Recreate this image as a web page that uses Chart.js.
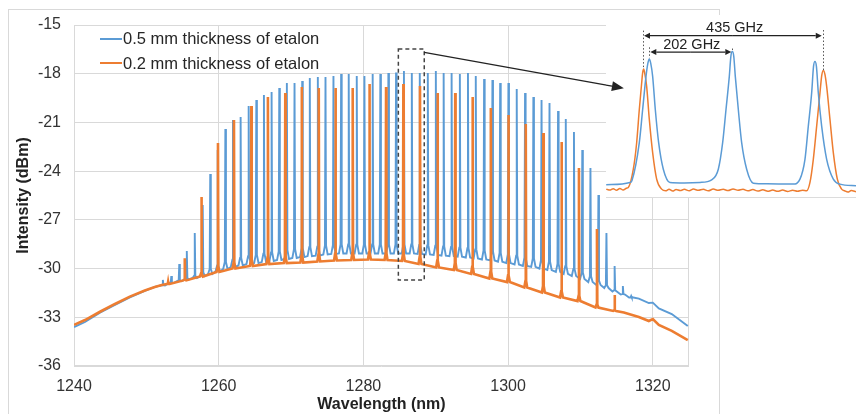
<!DOCTYPE html>
<html>
<head>
<meta charset="utf-8">
<title>Etalon comb spectrum</title>
<script src="https://cdn.jsdelivr.net/npm/chart.js@4.4.1/dist/chart.umd.min.js"></script>
<style>
  body { margin: 0; background: #fff; }
  #wrap { position: relative; width: 856px; height: 414px; overflow: hidden; font-family: "Liberation Sans", Arial, sans-serif; }
  #frame { position: absolute; left: 8px; top: 9px; width: 710px; height: 430px; border: 1px solid #d9d9d9; }
  #main { position: absolute; left: 0; top: 0; }
  #inset { position: absolute; left: 606px; top: 15px; background: #fff; }
  #insetEdge { position: absolute; left: 606px; top: 197px; width: 250px; height: 1px; background: #dcdcdc; }
  .leg { position: absolute; left: 100px; height: 20px; line-height: 20px; font-size: 16.5px; color: #262626; white-space: nowrap; }
  .leg span { display: inline-block; width: 22px; height: 2px; vertical-align: middle; margin-right: 1px; position: relative; top: -1px; }
</style>
</head>
<body>
<div id="wrap">
  <div id="frame"></div>
  <canvas id="main" width="856" height="414"></canvas>
  <canvas id="inset" width="250" height="182"></canvas>
  <div id="insetEdge"></div>
  <div id="legend"></div>
</div>
<script>
// Series names and colours
const seriesLabels = ['0.5 mm thickness of etalon', '0.2 mm thickness of etalon'];
const seriesColors = ['#5b9bd5', '#ed7d31'];

// Axis ticks
const xTicks = [1240, 1260, 1280, 1300, 1320];
const yTicks = [-36, -33, -30, -27, -24, -21, -18, -15];

// 0.5 mm etalon: comb lines (nm), line tops and the floor under each line (dBm)
const bluePeakNm = [1252.28, 1253.45, 1254.55, 1255.59, 1256.69, 1257.79, 1258.83, 1259.86, 1260.92, 1261.97,
  1263.03, 1264.14, 1265.20, 1266.25, 1267.31, 1268.37, 1269.42, 1270.48, 1271.54, 1272.59,
  1273.70, 1274.76, 1275.86, 1276.92, 1277.97, 1279.08, 1280.14, 1281.28, 1282.34, 1283.45,
  1284.51, 1285.60, 1286.69, 1287.79, 1288.90, 1290.01, 1291.09, 1292.19, 1293.33, 1294.45,
  1295.53, 1296.68, 1297.83, 1298.90, 1300.04, 1301.19, 1302.34, 1303.49, 1304.62, 1305.72,
  1306.90, 1307.97, 1309.10, 1310.25, 1311.38, 1312.48, 1313.59, 1314.72, 1315.86, 1317.01];
const bluePeakTop = [-30.7, -30.46, -29.72, -28.92, -27.81, -26.09, -24.18, -22.70, -21.40, -20.85,
  -20.67, -19.99, -19.62, -19.31, -19.13, -18.88, -18.57, -18.57, -18.45, -18.26,
  -18.20, -18.20, -18.14, -18.02, -18.02, -18.14, -18.14, -18.02, -18.02, -17.96,
  -17.93, -17.83, -17.96, -17.96, -17.96, -17.83, -17.96, -17.96, -18.02, -17.96,
  -18.14, -18.33, -18.39, -18.57, -18.57, -18.94, -19.19, -19.43, -19.62, -19.80,
  -20.30, -20.79, -21.59, -22.70, -23.81, -25.47, -27.81, -29.84, -31.07, -31.69];
const bluePeakFloor = [-31.04, -30.89, -30.77, -30.67, -30.58, -30.46, -30.33, -30.18, -30.03, -29.90,
  -29.81, -29.72, -29.66, -29.60, -29.53, -29.47, -29.41, -29.35, -29.29, -29.23,
  -29.20, -29.13, -29.10, -29.07, -29.07, -29.07, -29.07, -29.07, -29.07, -29.07,
  -29.07, -29.07, -29.07, -29.10, -29.13, -29.16, -29.20, -29.23, -29.27, -29.32,
  -29.38, -29.44, -29.50, -29.58, -29.66, -29.75, -29.84, -29.90, -30.00, -30.09,
  -30.21, -30.33, -30.46, -30.64, -30.83, -31.01, -31.20, -31.41, -31.60, -31.78];
// 0.5 mm etalon: ASE background outside the comb
const blueBaseNm = [1240, 1241.52, 1243.59, 1245.66, 1247.72, 1249.79, 1251.17,
  1318.07, 1319.45, 1320.0, 1320.83, 1322.62, 1324.83];
const blueBaseDb = [-33.60, -33.29, -32.71, -32.24, -31.78, -31.38, -31.13,
  -31.85, -32.12, -32.10, -32.45, -32.80, -33.54];

// 0.2 mm etalon: comb lines, tops and floors
const orangePeakNm = [1253.01, 1255.31, 1257.61, 1259.90, 1262.11, 1264.51, 1266.80, 1269.20, 1271.49,
  1273.83, 1276.14, 1278.52, 1280.83, 1283.13, 1285.52, 1287.82, 1290.25, 1292.69,
  1295.08, 1297.61, 1300.04, 1302.44, 1304.87, 1307.38, 1309.79, 1312.28, 1314.72];
const orangePeakTop = [-30.81, -29.37, -25.59, -22.27, -20.85, -19.99, -19.43, -19.19, -18.82,
  -18.88, -18.88, -18.88, -18.63, -18.82, -18.63, -18.76, -19.19, -19.19,
  -19.43, -20.11, -20.54, -21.10, -21.65, -22.21, -23.81, -27.56, -31.63];
const orangePeakFloor = [-30.95, -30.73, -30.49, -30.21, -30.00, -29.84, -29.72, -29.66, -29.63,
  -29.56, -29.50, -29.47, -29.44, -29.47, -29.53, -29.72, -29.93, -30.09,
  -30.33, -30.61, -30.83, -31.17, -31.47, -31.78, -32.00, -32.40, -32.61];
// 0.2 mm etalon: background outside the comb
const orangeBaseNm = [1240, 1241.52, 1243.59, 1245.66, 1247.72, 1249.79, 1251.17, 1252.14,
  1316.0, 1318.07, 1319.45, 1320.0, 1320.83, 1322.62, 1324.83];
const orangeBaseDb = [-33.47, -33.17, -32.66, -32.18, -31.73, -31.35, -31.13, -31.01,
  -32.71, -32.98, -33.23, -33.11, -33.47, -33.84, -34.40];

// Inset: detuning (GHz) and level
const insetBlueGHz = [-89, -31.5, -26.6, -8.9, -0.8, 7.3, 11.8, 15.3, 18.8, 23.4, 29.8, 37.9, 49.2, 65.3, 100,
  137.9, 166.2, 182.3, 192.8, 200.9, 208.9, 212.7, 216.2, 219.7, 223.4, 230.7, 238.8, 250.9, 267.0, 300,
  363.8, 379.9, 392.0, 400.1, 408.2, 412.7, 416.2, 419.7, 424.3, 432.4, 444.5, 460.6, 476.7, 515.5];
const insetBlueDb = [-29.12, -28.92, -28.75, -25.59, -22.81, -20.03, -18.95, -18.58, -18.95, -20.03, -22.81, -25.59, -27.81, -28.92, -28.96,
  -28.92, -28.70, -27.81, -25.59, -22.81, -20.03, -18.35, -17.95, -18.35, -20.03, -22.81, -25.59, -27.81, -28.98, -29.04,
  -29.06, -28.64, -26.98, -24.20, -21.42, -19.20, -18.79, -19.20, -21.42, -24.20, -26.98, -28.64, -29.06, -29.20];
const insetOrangeGHz = [-89, -80, -72, -64, -56, -48, -40, -35.5, -23.4, -15.3, -8.9, -3.2, -0.9, 1.6, 4.4, 8.9, 15.3, 23.4, 33.1, 45.2,
  55, 63, 72, 80, 90, 100, 112, 122, 134, 146, 158, 170, 182, 194, 206, 218, 230, 242, 254, 266,
  278, 290, 302, 314, 326, 338, 350, 362, 374, 386, 396.1,
  404.1, 412.2, 420.3, 428.3, 432.6, 436.4, 440.2, 444.5, 452.5, 460.6, 470.3, 480.8, 488, 496, 504, 515.5];
const insetOrangeDb = [-29.48, -29.56, -29.44, -29.58, -29.42, -29.56, -29.40, -29.34, -27.81, -25.59, -22.81, -20.59, -19.75, -19.42, -19.8, -20.87, -23.64, -26.42, -28.64, -29.48,
  -29.62, -29.50, -29.64, -29.52, -29.60, -29.50, -29.62, -29.48, -29.58, -29.50, -29.62, -29.48, -29.58, -29.50, -29.60, -29.46, -29.58, -29.50, -29.62, -29.52,
  -29.64, -29.54, -29.66, -29.56, -29.66, -29.56, -29.68, -29.58, -29.66, -29.58, -29.62,
  -28.92, -26.98, -24.20, -21.42, -19.95, -19.53, -19.85, -20.87, -23.64, -26.42, -28.64, -29.48, -29.62, -29.72, -29.60, -29.70];

// Annotation placement (data units of each chart)
const zoomBox = { x0: 1284.83, x1: 1288.41, y0: -16.48, y1: -30.70 };
const pointer = { x0: 1288.41, y0: -16.68, x1: 1316.0, y1: -18.9 };
const insetGuides = [[0, -16.2, -19.35], [15.3, -17.6, -18.5], [216.2, -17.7, -17.95], [435, -16.15, -19.5]];
const insetSpans = [
    { from: 0, to: 435, y: -16.62, text: '435 GHz', tx: 222, ty: -15.97 },
    { from: 15.3, to: 216.2, y: -18.0, text: '202 GHz', tx: 118, ty: -17.39 },
];

const fontFamily = '"Liberation Sans", Arial, sans-serif';
Chart.defaults.font.family = fontFamily;

// Spike for every comb line on top of its background
function buildTrace(baseNm, baseDb, peakNm, peakTop, peakFloor, halfBase, halfNeck, neckPart) {
    const pts = baseNm.map((x, i) => ({ x: x, y: baseDb[i] }));
    peakNm.forEach((x, i) => {
        const f = peakFloor[i];
        const neck = f + (peakTop[i] - f) * neckPart;
        pts.push(
            { x: x - halfBase, y: f },
            { x: x - halfNeck, y: neck },
            { x: x, y: peakTop[i] },
            { x: x + halfNeck, y: neck },
            { x: x + halfBase, y: f }
        );
    });
    return pts.sort((a, b) => a.x - b.x);
}

function toPoints(xs, ys) {
    return xs.map((x, i) => ({ x: x, y: ys[i] }));
}

function drawArrow(ctx, x0, y0, x1, y1, head, half) {
    const ang = Math.atan2(y1 - y0, x1 - x0);
    const bx = x1 - Math.cos(ang) * head;
    const by = y1 - Math.sin(ang) * head;
    ctx.beginPath();
    ctx.moveTo(x0, y0);
    ctx.lineTo(bx, by);
    ctx.stroke();
    ctx.beginPath();
    ctx.moveTo(x1, y1);
    ctx.lineTo(bx + Math.sin(ang) * half, by - Math.cos(ang) * half);
    ctx.lineTo(bx - Math.sin(ang) * half, by + Math.cos(ang) * half);
    ctx.closePath();
    ctx.fill();
}

// HTML legend
const legend = document.getElementById('legend');
seriesLabels.forEach((label, i) => {
    const item = document.createElement('div');
    item.className = 'leg';
    item.style.top = (28 + i * 24.5) + 'px';
    item.innerHTML = '<span style="background:' + seriesColors[i] + '"></span>' + label;
    legend.appendChild(item);
});

// Main spectrum
const mainDecor = {
    id: 'mainDecor',
    beforeDatasetsDraw(chart) {
        const { ctx, chartArea: a } = chart;
        ctx.save();
        ctx.strokeStyle = '#d9d9d9';
        ctx.lineWidth = 1;
        ctx.strokeRect(a.left + 0.5, a.top + 0.5, a.right - a.left - 1, a.bottom - a.top - 1);
        ctx.restore();
    },
    afterDraw(chart) {
        const { ctx } = chart;
        const { x, y } = chart.scales;
        ctx.save();
        ctx.strokeStyle = '#444';
        ctx.lineWidth = 1.5;
        ctx.setLineDash([4, 3]);
        const bx = x.getPixelForValue(zoomBox.x0);
        const by = y.getPixelForValue(zoomBox.y0);
        ctx.strokeRect(bx, by, x.getPixelForValue(zoomBox.x1) - bx, y.getPixelForValue(zoomBox.y1) - by);
        ctx.setLineDash([]);
        ctx.strokeStyle = '#222';
        ctx.fillStyle = '#222';
        ctx.lineWidth = 1.3;
        drawArrow(ctx, x.getPixelForValue(pointer.x0), y.getPixelForValue(pointer.y0),
            x.getPixelForValue(pointer.x1), y.getPixelForValue(pointer.y1), 12, 5);
        ctx.restore();
    },
};

const mainChart = new Chart(document.getElementById('main'), {
    type: 'line',
    data: {
        datasets: [{
            label: seriesLabels[1],
            data: buildTrace(orangeBaseNm, orangeBaseDb, orangePeakNm, orangePeakTop, orangePeakFloor, 0.2, 0.05, 0.04),
            borderColor: seriesColors[1],
            borderWidth: 2.6,
            pointRadius: 0,
            tension: 0,
            order: 0,
        }, {
            label: seriesLabels[0],
            data: buildTrace(blueBaseNm, blueBaseDb, bluePeakNm, bluePeakTop, bluePeakFloor, 0.3, 0.08, 0.05),
            borderColor: seriesColors[0],
            borderWidth: 1.9,
            pointRadius: 0,
            tension: 0,
            order: 1,
        }],
    },
    options: {
        responsive: false,
        animation: false,
        layout: { padding: { left: 0, right: 167, top: 25, bottom: 0 } },
        scales: {
            x: {
                type: 'linear',
                min: 1240,
                max: 1325,
                afterBuildTicks: s => { s.ticks = xTicks.map(v => ({ value: v })); },
                afterFit: s => { s.height = 48; },
                grid: { color: '#d9d9d9', drawTicks: false },
                border: { display: false },
                ticks: { padding: 11, maxRotation: 0, color: '#333', font: { size: 16 }, callback: v => String(v) },
                title: { display: true, text: 'Wavelength (nm)', color: '#222', font: { size: 16, weight: 'bold' }, padding: { top: 0, bottom: 0 } },
            },
            y: {
                min: -36,
                max: -15,
                afterBuildTicks: s => { s.ticks = yTicks.map(v => ({ value: v })); },
                afterFit: s => { s.width = 74; },
                grid: { color: '#d9d9d9', drawTicks: false },
                border: { display: false },
                ticks: { padding: 13, color: '#333', font: { size: 16 }, callback: v => String(v) },
                title: { display: true, text: 'Intensity (dBm)', color: '#222', font: { size: 16, weight: 'bold' }, padding: { top: 14, bottom: 0 } },
            },
        },
        plugins: {
            legend: { display: false },
            tooltip: { enabled: false },
        },
    },
    plugins: [mainDecor],
});

// Inset: close-up of the dashed region
const insetCanvas = document.getElementById('inset');
const insetDecor = {
    id: 'insetDecor',
    afterDraw(chart) {
        const { ctx } = chart;
        const { x, y } = chart.scales;
        ctx.save();
        // dotted guides
        ctx.strokeStyle = '#555';
        ctx.lineWidth = 1;
        ctx.setLineDash([1.5, 2]);
        insetGuides.forEach(g => {
            const gx = Math.round(x.getPixelForValue(g[0])) + 0.5;
            ctx.beginPath();
            ctx.moveTo(gx, y.getPixelForValue(g[1]));
            ctx.lineTo(gx, y.getPixelForValue(g[2]));
            ctx.stroke();
        });
        ctx.setLineDash([]);
        // spacing arrows and labels
        ctx.strokeStyle = '#222';
        ctx.fillStyle = '#222';
        ctx.lineWidth = 1.2;
        ctx.font = '14.5px ' + fontFamily;
        ctx.textAlign = 'center';
        ctx.textBaseline = 'middle';
        insetSpans.forEach(s => {
            const xa = x.getPixelForValue(s.from) + 1;
            const xb = x.getPixelForValue(s.to) - 1;
            const yy = y.getPixelForValue(s.y);
            const xm = (xa + xb) / 2;
            drawArrow(ctx, xm, yy, xa, yy, 6, 3);
            drawArrow(ctx, xm, yy, xb, yy, 6, 3);
            ctx.fillText(s.text, x.getPixelForValue(s.tx), y.getPixelForValue(s.ty));
        });
        // the pointer from the main chart continues over the inset
        const mx = mainChart.scales.x;
        const my = mainChart.scales.y;
        const ox = insetCanvas.offsetLeft;
        const oy = insetCanvas.offsetTop;
        ctx.lineWidth = 1.3;
        drawArrow(ctx, mx.getPixelForValue(pointer.x0) - ox, my.getPixelForValue(pointer.y0) - oy,
            mx.getPixelForValue(pointer.x1) - ox, my.getPixelForValue(pointer.y1) - oy, 12, 5);
        ctx.restore();
    },
};

new Chart(insetCanvas, {
    type: 'line',
    data: {
        datasets: [{
            data: toPoints(insetBlueGHz, insetBlueDb),
            borderColor: seriesColors[0],
            borderWidth: 1.5,
            pointRadius: 0,
            cubicInterpolationMode: 'monotone',
            order: 0,
        }, {
            data: toPoints(insetOrangeGHz, insetOrangeDb),
            borderColor: seriesColors[1],
            borderWidth: 1.5,
            pointRadius: 0,
            cubicInterpolationMode: 'monotone',
            order: 1,
        }],
    },
    options: {
        responsive: false,
        animation: false,
        layout: { padding: 0 },
        scales: {
            x: { type: 'linear', display: false, min: -89.5, max: 515.5 },
            y: { display: false, min: -30.14, max: -14.89 },
        },
        plugins: {
            legend: { display: false },
            tooltip: { enabled: false },
        },
    },
    plugins: [insetDecor],
});
</script>
</body>
</html>
